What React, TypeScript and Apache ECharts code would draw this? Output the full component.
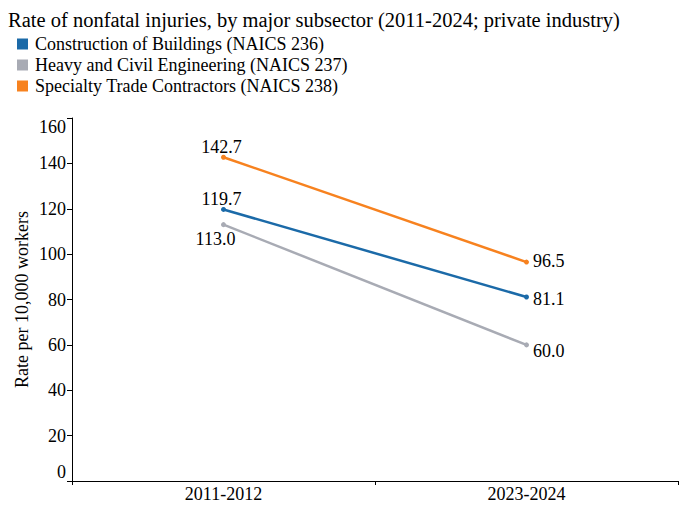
import React, { useEffect, useRef } from "react";
import * as echarts from "echarts";

const titleText = "Rate of nonfatal injuries, by major subsector (2011-2024; private industry)";
const categories = ["2011-2012", "2023-2024"];
const seriesNames = [
  "Construction of Buildings (NAICS 236)",
  "Heavy and Civil Engineering (NAICS 237)",
  "Specialty Trade Contractors (NAICS 238)",
];
const buildingsValues = [119.7, 81.1];
const heavyCivilValues = [113.0, 60.0];
const specialtyValues = [142.7, 96.5];
const yAxisName = "Rate per 10,000 workers";

const FONT = "'Liberation Serif', 'Times New Roman', serif";
const colors = ["#1b6aa8", "#a8abb4", "#f7821f"];

export default function App() {
  const ref = useRef<HTMLDivElement>(null);
  useEffect(() => {
    document.body.style.margin = "0";
    if (!ref.current) return;
    const chart = echarts.init(ref.current, undefined, { renderer: "svg" });
    const values = [buildingsValues, heavyCivilValues, specialtyValues];
    // label placements per series [left point, right point]
    const labelCfg: any[][] = [
      [
        { position: "top", distance: 0, offset: [-2, 1] },
        { position: "right", distance: 4, offset: [0, 2] },
      ],
      [
        { position: "bottom", distance: 3, offset: [-8, 0] },
        { position: "right", distance: 4, offset: [0, 6] },
      ],
      [
        { position: "top", distance: 0, offset: [-2, 1] },
        { position: "right", distance: 4, offset: [0, -1] },
      ],
    ];
    const series = values.map((vals, si) => ({
      type: "line",
      name: seriesNames[si],
      color: colors[si],
      symbol: "circle",
      symbolSize: 5,
      lineStyle: { width: 2.5, color: colors[si] },
      itemStyle: { color: colors[si] },
      data: vals.map((v, i) => ({
        value: v,
        label: {
          show: true,
          ...labelCfg[si][i],
          formatter: (p: any) => Number(p.value).toFixed(1),
          fontFamily: FONT,
          fontSize: 18,
          color: "#000",
        },
      })),
    }));
    chart.setOption({
      animation: false,
      title: {
        text: titleText,
        left: 8,
        top: 9,
        padding: 0,
        textStyle: { fontFamily: FONT, fontSize: 20.5, fontWeight: "normal", color: "#000" },
      },
      legend: {
        orient: "vertical",
        left: 17,
        top: 35,
        padding: 0,
        itemWidth: 11,
        itemHeight: 11,
        itemGap: 3,
        icon: "rect",
        data: seriesNames,
        textStyle: { fontFamily: FONT, fontSize: 18, color: "#000", padding: [0, 0, 0, 2] },
      },
      grid: { left: 72, right: 2, top: 118, bottom: 32, containLabel: false },
      xAxis: {
        type: "category",
        data: categories,
        boundaryGap: true,
        axisLine: { show: true, lineStyle: { color: "#000", width: 1 } },
        axisTick: { show: true, length: 4, lineStyle: { color: "#000" } },
        axisLabel: { fontFamily: FONT, fontSize: 18, color: "#000", margin: 4 },
        splitLine: { show: false },
      },
      yAxis: {
        type: "value",
        min: 0,
        max: 160,
        interval: 20,
        name: yAxisName,
        nameLocation: "middle",
        nameGap: 41,
        nameMoveOverlap: false,
        nameTextStyle: { fontFamily: FONT, fontSize: 18, color: "#000" },
        axisLine: { show: true, lineStyle: { color: "#000", width: 1 } },
        axisTick: { show: true, length: 5, lineStyle: { color: "#000" } },
        axisLabel: {
          fontFamily: FONT,
          fontSize: 18,
          color: "#000",
          margin: 6,
          verticalAlignMinLabel: "bottom",
          verticalAlignMaxLabel: "top",
        },
        splitLine: { show: false },
      },
      series,
    });
    return () => chart.dispose();
  }, []);
  return <div ref={ref} style={{ width: 680, height: 513 }} />;
}
